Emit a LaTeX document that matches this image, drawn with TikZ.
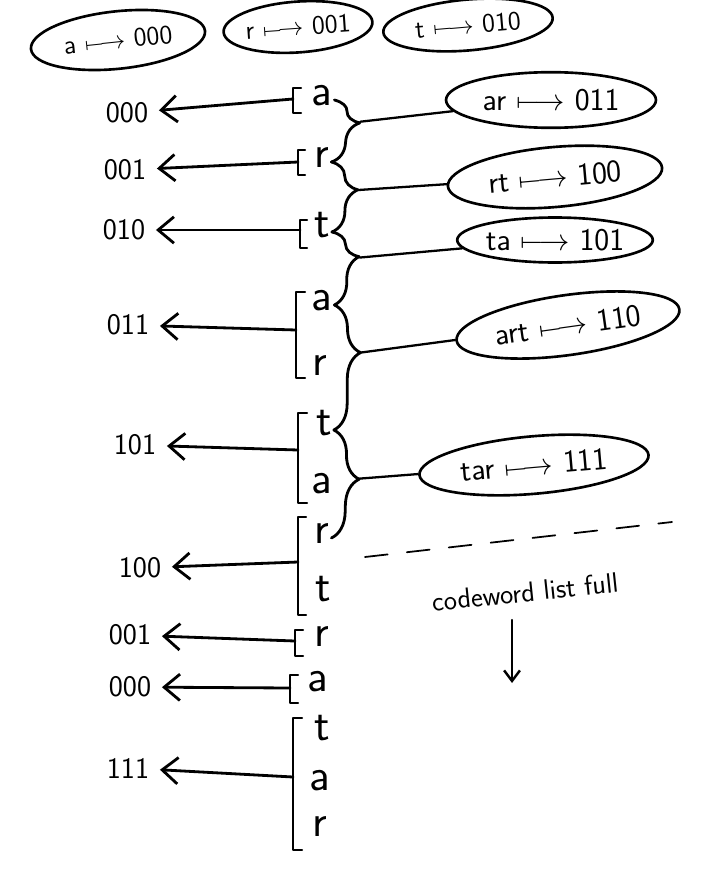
\documentclass[tikz,border=0pt]{standalone}
\renewcommand{\familydefault}{\sfdefault}
\usetikzlibrary{shapes,arrows.meta,positioning,calc,decorations.pathreplacing}

\tikzset{
  mapbox/.style={draw, ellipse, line width=1.5pt, inner xsep=0pt, inner ysep=5pt, font=\fontsize{18}{21}\selectfont},
  letter/.style={inner sep=1pt, text height=1.4ex, text depth=0pt, font=\fontsize{26}{30}\selectfont},
  code/.style={inner sep=3pt, font=\fontsize{17}{20}\selectfont},
  back/.style={-{Straight Barb[length=9pt,width=15pt]}, line width=1.6pt, shorten >=3pt},
  bracket/.style={line width=1.3pt},
  pair/.style={decorate, decoration={brace, amplitude=15pt}, line width=1.6pt},
  link/.style={line width=1.3pt}
}

\begin{document}
\begin{tikzpicture}[x=0.02cm, y=-0.02cm, line cap=round, line join=round]
        \useasboundingbox (0,0) rectangle (727,892);

        % starting codewords
        \node[mapbox, font=\fontsize{15}{18}\selectfont, minimum width=3.5cm, minimum height=1.15cm, rotate=6] (m1) at (118,40) {a $\longmapsto$ 000};
        \node[mapbox, font=\fontsize{15}{18}\selectfont, minimum height=0.95cm, rotate=4] (m2) at (298,27) {r $\longmapsto$ 001};
        \node[mapbox, font=\fontsize{15}{18}\selectfont, minimum width=3.4cm, minimum height=0.95cm, rotate=5] (m3) at (468,25) {t $\longmapsto$ 010};

        % input string
        \node[letter] (a1) at (322,100) {a};
        \node[letter] (r2) at (322,162) {r};
        \node[letter] (t3) at (322,232) {t};
        \node[letter] (a4) at (322,305) {a};
        \node[letter] (r4) at (320,370) {r};
        \node[letter] (t5) at (324,430) {t};
        \node[letter] (a5) at (322,488) {a};
        \node[letter] (r6) at (322,538) {r};
        \node[letter] (t6) at (323,596) {t};
        \node[letter] (r7) at (322,641) {r};
        \node[letter] (a8) at (318,686) {a};
        \node[letter] (t9) at (322,735) {t};
        \node[letter] (a9) at (320,785) {a};
        \node[letter] (r9) at (320,831) {r};

        % brackets
        \draw[bracket] (301,88) -- (293,88) -- (293,113) -- (301,113);
        \draw[bracket] (305,150) -- (298,150) -- (298,175) -- (305,175);
        \draw[bracket] (307,220) -- (300,220) -- (300,248) -- (307,248);
        \draw[bracket] (305,292) -- (296,292) -- (296,378) -- (305,378);
        \draw[bracket] (307,413) -- (298,413) -- (298,503) -- (307,503);
        \draw[bracket] (306,517) -- (298,517) -- (298,615) -- (306,615);
        \draw[bracket] (303,630) -- (295,630) -- (295,656) -- (303,656);
        \draw[bracket] (298,675) -- (290,675) -- (290,703) -- (298,703);
        \draw[bracket] (302,718) -- (293,718) -- (293,850) -- (302,850);
        \coordinate (k1) at (293,99);
        \coordinate (k2) at (298,162);
        \coordinate (k3) at (300,230);
        \coordinate (k4) at (296,330);
        \coordinate (k5) at (298,450);
        \coordinate (k6) at (298,562);
        \coordinate (k7) at (295,641);
        \coordinate (k8) at (290,688);
        \coordinate (k9) at (293,777);

        % output codes
        \node[code] (c1) at (127,113) {000};
        \node[code] (c2) at (125,170) {001};
        \node[code] (c3) at (124,230) {010};
        \node[code] (c4) at (128,325) {011};
        \node[code] (c5) at (135,445) {101};
        \node[code] (c6) at (140,568) {100};
        \node[code] (c7) at (130,635) {001};
        \node[code] (c8) at (130,687) {000};
        \node[code] (c9) at (128,768) {111};
        \foreach \i in {1,...,9}
            \draw[back] (k\i) -- (c\i);

        % new codewords
        \node[mapbox, minimum width=4.2cm, minimum height=1.1cm] (e1) at (551,100) {ar $\longmapsto$ 011};
        \node[mapbox, minimum width=4.3cm, minimum height=1.2cm, rotate=5] (e2) at (555,177) {rt $\longmapsto$ 100};
        \node[mapbox, minimum width=3.9cm, minimum height=0.9cm, inner ysep=2pt] (e3) at (555,240) {ta $\longmapsto$ 101};
        \node[mapbox, minimum width=4.5cm, minimum height=1.2cm, rotate=8] (e4) at (568,325) {art $\longmapsto$ 110};
        \node[mapbox, minimum width=4.6cm, minimum height=1.15cm, rotate=5] (e5) at (534,465) {tar $\longmapsto$ 111};

        % braces joining the pairs
        \draw[pair, decoration={aspect=0.35}] (a1.east) -- (r2.east);
        \draw[pair, decoration={aspect=0.4}] (r2.east) -- (t3.east);
        \draw[pair, decoration={aspect=0.35}] (t3.east) -- (a4.east);
        \draw[pair, decoration={aspect=0.38}] (a4.east) -- (t5.east);
        \draw[pair, decoration={aspect=0.45}] (t5.east) -- (r6.east);
        \coordinate (b1) at ($(a1.east)!0.35!(r2.east)+(27,0)$);
        \coordinate (b2) at ($(r2.east)!0.4!(t3.east)+(27,0)$);
        \coordinate (b3) at ($(t3.east)!0.35!(a4.east)+(27,0)$);
        \coordinate (b4) at ($(a4.east)!0.38!(t5.east)+(27,0)$);
        \coordinate (b5) at ($(t5.east)!0.45!(r6.east)+(27,0)$);
        \foreach \i in {1,...,5}
            \draw[link] (b\i) -- (e\i);

        % list is full
        \draw[line width=1pt, dash pattern=on 13pt off 11pt] (365,557) -- (672,522);
        \node[font=\fontsize{16}{19}\selectfont, rotate=6] (full) at (525,592) {codeword list full};
        \coordinate (d1) at (512,620);
        \coordinate (d2) at (512,683);
        \draw[-{Straight Barb[length=6pt,width=9pt]}, line width=1.4pt] (d1) -- (d2);
\end{tikzpicture}
\end{document}
